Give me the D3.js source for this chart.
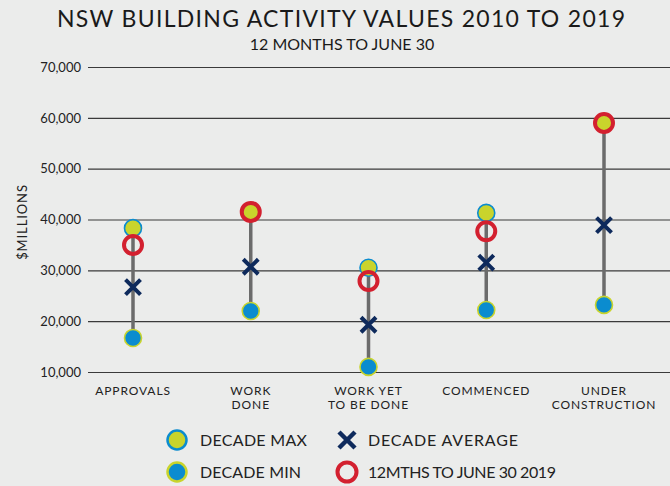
<!DOCTYPE html>
<html>
<head>
<meta charset="utf-8">
<script src="https://cdn.jsdelivr.net/npm/d3@7"></script>
<style>
  body { margin: 0; background: #ebeceb; }
  svg { display: block; font-family: "Lato", "Open Sans", sans-serif; }
</style>
</head>
<body>
<div id="chart"></div>
<script>
var svgWidth = 670;
var svgHeight = 486;

// data ($ millions)
var categories = ["APPROVALS", "WORK\nDONE", "WORK YET\nTO BE DONE", "COMMENCED", "UNDER\nCONSTRUCTION"];
var decadeMax = [38300, 41500, 30500, 41300, 59000];
var decadeMin = [16700, 22000, 11000, 22200, 23200];
var decadeAvg = [26700, 30700, 19300, 31500, 38900];
var latest = [35000, 41500, 27900, 37700, 59000];
var yTicks = [10000, 20000, 30000, 40000, 50000, 60000, 70000];

var colors = {
  yellow: "#c9d42c",
  blue: "#0b8ccf",
  navy: "#0e2a5c",
  red: "#d3202f",
  stem: "#6b6b6b"
};

var svg = d3.select("#chart")
  .append("svg")
  .attr("width", svgWidth)
  .attr("height", svgHeight);

// title
svg.append("text")
  .attr("x", 341).attr("y", 27)
  .attr("text-anchor", "middle")
  .attr("font-size", "23px")
  .attr("textLength", 568)
  .attr("fill", "#1a1a1a")
  .text("NSW BUILDING ACTIVITY VALUES 2010 TO 2019");

svg.append("text")
  .attr("x", 342).attr("y", 50)
  .attr("text-anchor", "middle")
  .attr("font-size", "16px")
  .attr("fill", "#1a1a1a")
  .text("12 MONTHS TO JUNE 30");

var xScale = d3.scalePoint()
  .domain(d3.range(categories.length))
  .range([133, 604]);

var yScale = d3.scaleLinear()
  .domain([10000, 70000])
  .range([372, 67]);

// gridlines + labels
var yAxis = d3.axisLeft(yScale)
  .tickValues(yTicks)
  .tickSize(-(670 - 88))
  .tickPadding(7)
  .tickFormat(d3.format(","));

var yG = svg.append("g")
  .attr("transform", "translate(88,0)")
  .call(yAxis);
yG.select(".domain").remove();
yG.selectAll(".tick line").attr("stroke", "#3a3a3a").attr("stroke-width", 1.2);
yG.selectAll(".tick text")
  .attr("font-size", "13px")
  .attr("fill", "#222")
  .style("font-family", "Lato, sans-serif");

svg.append("text")
  .attr("transform", "translate(27,222) rotate(-90)")
  .attr("text-anchor", "middle")
  .attr("font-size", "13px")
  .attr("letter-spacing", "0.9")
  .attr("fill", "#222")
  .text("$MILLIONS");

// category labels, one text per line
var idx = d3.range(categories.length);
idx.forEach(function (i) {
  categories[i].split("\n").forEach(function (line, k) {
    svg.append("text")
      .attr("text-anchor", "middle")
      .attr("font-size", "12px")
      .attr("letter-spacing", "0.9")
      .attr("fill", "#222")
      .attr("x", xScale(i))
      .attr("y", 394.5 + k * 14.5)
      .text(line);
  });
});

// stems
svg.selectAll(".stem")
  .data(idx)
  .enter()
  .append("line")
  .attr("x1", function (i) { return xScale(i); })
  .attr("x2", function (i) { return xScale(i); })
  .attr("y1", function (i) { return yScale(decadeMin[i]); })
  .attr("y2", function (i) { return yScale(decadeMax[i]); })
  .attr("stroke", colors.stem)
  .attr("stroke-width", 3.5);

// decade max
svg.selectAll(".max")
  .data(idx)
  .enter()
  .append("circle")
  .attr("cx", function (i) { return xScale(i); })
  .attr("cy", function (i) { return yScale(decadeMax[i]); })
  .attr("r", 8.5)
  .attr("fill", colors.yellow)
  .attr("stroke", colors.blue)
  .attr("stroke-width", 1.6);

// decade min
svg.selectAll(".min")
  .data(idx)
  .enter()
  .append("circle")
  .attr("cx", function (i) { return xScale(i); })
  .attr("cy", function (i) { return yScale(decadeMin[i]); })
  .attr("r", 8.5)
  .attr("fill", colors.blue)
  .attr("stroke", colors.yellow)
  .attr("stroke-width", 1.6);

// decade average (cross)
function crossPath(cx, cy, s) {
  return "M" + (cx - s) + "," + (cy - s) + "L" + (cx + s) + "," + (cy + s) +
    "M" + (cx - s) + "," + (cy + s) + "L" + (cx + s) + "," + (cy - s);
}
svg.selectAll(".avg")
  .data(idx)
  .enter()
  .append("path")
  .attr("d", function (i) { return crossPath(xScale(i), yScale(decadeAvg[i]), 7.5); })
  .attr("stroke", colors.navy)
  .attr("stroke-width", 4)
  .attr("fill", "none");

// 12 months to June 30 2019
svg.selectAll(".latest")
  .data(idx)
  .enter()
  .append("circle")
  .attr("cx", function (i) { return xScale(i); })
  .attr("cy", function (i) { return yScale(latest[i]); })
  .attr("r", 9)
  .attr("fill", "none")
  .attr("stroke", colors.red)
  .attr("stroke-width", 4);

// legend
var legend = svg.append("g").attr("font-size", "16px").attr("fill", "#222");

legend.append("circle").attr("cx", 177).attr("cy", 440).attr("r", 9.5)
  .attr("fill", colors.yellow).attr("stroke", colors.blue).attr("stroke-width", 2.5);
legend.append("text").attr("x", 200).attr("y", 446).attr("textLength", 107).text("DECADE MAX");

legend.append("circle").attr("cx", 177).attr("cy", 472).attr("r", 9.5)
  .attr("fill", colors.blue).attr("stroke", colors.yellow).attr("stroke-width", 2.5);
legend.append("text").attr("x", 200).attr("y", 478).attr("textLength", 101).text("DECADE MIN");

legend.append("path").attr("d", crossPath(347, 440, 8))
  .attr("stroke", colors.navy).attr("stroke-width", 4.5).attr("fill", "none");
legend.append("text").attr("x", 368).attr("y", 446).attr("textLength", 150).text("DECADE AVERAGE");

legend.append("circle").attr("cx", 347).attr("cy", 472).attr("r", 9.5)
  .attr("fill", "none").attr("stroke", colors.red).attr("stroke-width", 4);
legend.append("text").attr("x", 368).attr("y", 478).attr("textLength", 188).text("12MTHS TO JUNE 30 2019");
</script>
</body>
</html>
